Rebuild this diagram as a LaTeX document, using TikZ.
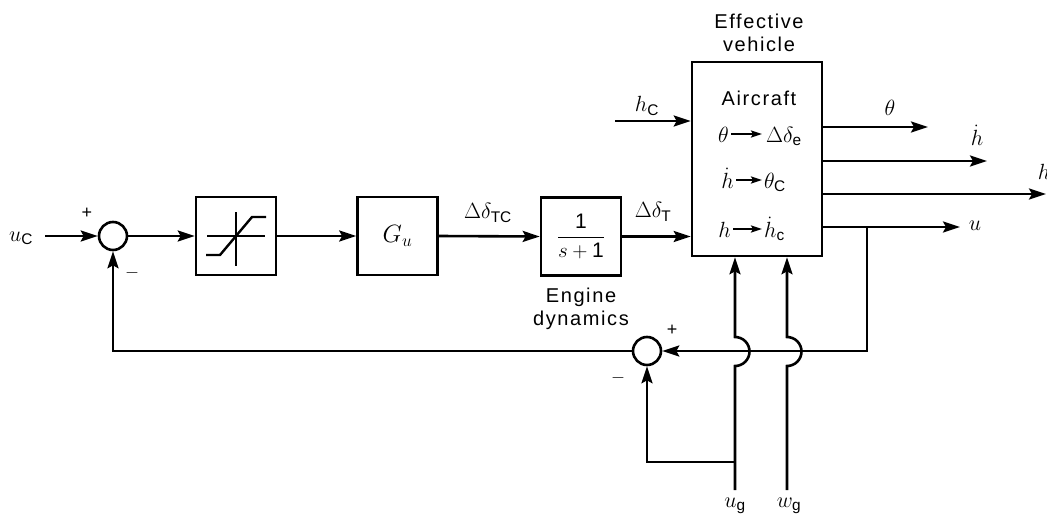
\RequirePackage{fix-cm}
\documentclass[tikz,border=0pt]{standalone}
\usepackage{amsmath}
\usepackage{fontspec}
\setmainfont{Liberation Sans}
\setsansfont{Liberation Sans}
\newfontfamily\lblfont{Liberation Sans}[LetterSpace=8]
\usetikzlibrary{arrows.meta}
\tikzset{
  ln/.style={line width=2.6pt},
  arr/.style={ln,-{Stealth[length=17pt,width=11pt,inset=3pt]}},
  sarr/.style={line width=2pt,-{Stealth[length=11pt,width=7pt,inset=2pt]}},
  blk/.style={draw,ln,minimum width=80pt,minimum height=78pt,inner sep=0pt},
  sumc/.style={draw,ln,circle,minimum size=28pt,inner sep=0pt},
  lbl/.style={font=\lblfont\fontsize{20}{23}\selectfont,align=center,inner sep=1pt},
  mth/.style={font=\fontsize{22}{25}\selectfont,inner sep=0pt},
  sgn/.style={font=\fontsize{18}{20}\selectfont,inner sep=0pt},
}
\begin{document}
\begin{tikzpicture}[x=1pt,y=-1pt]
\useasboundingbox (0,0) rectangle (1047,525);

% blocks
\node[sumc] (s1) at (113,236) {};
\node[blk] (sat) at (236,236) {};
\node[blk] (gu) at (397.5,236) {\fontsize{25}{27}\selectfont$G_u$};
\node[blk] (eng) at (581,236.5) {\fontsize{21}{24}\selectfont$\dfrac{\textsf{1}}{s+\textsf{1}}$};
\node[draw,ln,minimum width=130pt,minimum height=194pt,inner sep=0pt] (ac) at (757,159) {};
\node[sumc] (s2) at (647,351) {};

% saturation symbol
\draw[line width=2.4pt] (207,236) -- (265,236);
\draw[line width=2.4pt] (236,212) -- (236,266);
\draw[line width=2.4pt] (206,255) -- (220,255) -- (252,217) -- (266,217);

% labels
\node[mth] (uc) at (21,238) {$u_{\textsf{C}}$};
\node[sgn] (p1) at (87,213) {+};
\node[sgn] (m1) at (132,273) {$-$};
\node[sgn] (p2) at (672,330) {+};
\node[sgn] (m2) at (618,378) {$-$};
\node[mth] (dtc) at (488,213) {$\Delta\delta_{\textsf{TC}}$};
\node[mth] (dt) at (653,212) {$\Delta\delta_{\textsf{T}}$};
\node[lbl] (engl) at (581,309) {Engine\\dynamics};
\node[lbl] (effl) at (759,33) {Effective\\vehicle};
\node[lbl] (acl) at (759,98) {Aircraft};
\node[mth] (hcl) at (647,106) {$h_{\textsf{C}}$};
\node[mth] (thl) at (890,108) {$\theta$};
\node[mth] (hdl) at (977,135) {$\dot h$};
\node[mth] (hl) at (1044,172) {$h$};
\node[mth] (ul) at (975,226) {$u$};
\node[mth] (ugl) at (735,506) {$u_{\textsf{g}}$};
\node[mth] (wgl) at (789,506) {$w_{\textsf{g}}$};

% inside aircraft
\node[mth,anchor=base east] (th1) at (729,142) {$\theta$};
\node[mth,anchor=base west] (de) at (766,142) {$\Delta\delta_{\textsf{e}}$};
\node[mth,anchor=base east] (hd1) at (734,188) {$\dot h$};
\node[mth,anchor=base west] (thc) at (764,188) {$\theta_{\textsf{C}}$};
\node[mth,anchor=base east] (h1) at (731,237) {$h$};
\node[mth,anchor=base west] (hdc) at (764,237) {$\dot h_{\textsf{c}}$};
\draw[sarr] ([xshift=2pt]th1.east |- 0,134) -- (762,134);
\draw[sarr] ([xshift=2pt]hd1.east |- 0,180) -- (762,180);
\draw[sarr] ([xshift=2pt]h1.east |- 0,229) -- (762,229);

% coordinates
\coordinate (in) at (45,236);
\coordinate (hcs) at (615,121);
\coordinate (o1) at (928,127);
\coordinate (o2) at (987,161);
\coordinate (o3) at (1046,194);
\coordinate (o4) at (960,227);
\coordinate (br) at (867,227);
\coordinate (ug) at (735,490);
\coordinate (wg) at (787,490);

% main path
\draw[arr] (in) -- (s1.west);
\draw[arr] (s1.east) -- (sat.west);
\draw[arr] (sat.east) -- (gu.west);
\draw[arr] (gu.east) -- (eng.west);
\draw[arr] (eng.east) -- (ac.west |- eng.east);
\draw[arr] (hcs) -- (ac.west |- hcs);
\draw[arr] (ac.east |- o1) -- (o1);
\draw[arr] (ac.east |- o2) -- (o2);
\draw[arr] (ac.east |- o3) -- (o3);
\draw[arr] (ac.east |- o4) -- (o4);

% feedback
\draw[arr] (br) -- (867,351) -- (s2.east);
\draw[arr] (s2.west) -- (113,351) -- (s1.south);
\draw[arr] (ug) -- (735,366) arc[start angle=90,end angle=-90,radius=14.5] -- (ac.south -| ug);
\draw[arr] (wg) -- (787,366) arc[start angle=90,end angle=-90,radius=14.5] -- (ac.south -| wg);
\draw[arr] (735,462) -- (647,462) -- (s2.south);
\end{tikzpicture}
\end{document}
